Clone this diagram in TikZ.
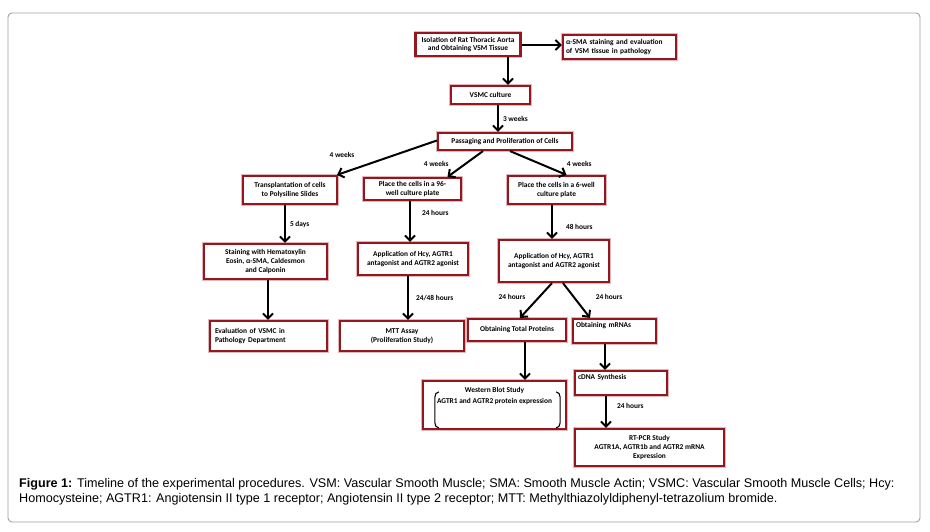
\documentclass[tikz,border=0pt]{standalone}
\usepackage{fontspec}
\setmainfont{Liberation Sans}
\newfontfamily\boxfont{Carlito}
\usepackage{xcolor}
\usetikzlibrary{arrows.meta,positioning,calc}
\definecolor{boxred}{RGB}{150,22,30}
\definecolor{framegray}{RGB}{160,160,160}

\begin{document}
\begin{tikzpicture}[
    x=1pt, y=-1pt,
    stepbox/.style={draw=boxred, line width=2.2pt, fill=white, align=center,
        preaction={draw=boxred!30, line width=3.6pt},
        font=\boxfont\bfseries\fontsize{7.4}{8.6}\selectfont, inner sep=2pt},
    arr/.style={-{Straight Barb[length=5pt,width=10pt]}, line width=2pt},
    lbl/.style={font=\boxfont\bfseries\fontsize{7.4}{8.6}\selectfont, inner sep=1pt},
    bracket/.style={line width=1.1pt}
]
    \useasboundingbox (0,0) rectangle (930,532);
    \draw[framegray, line width=0.9pt, rounded corners=4pt] (8,13) rectangle (920,522);

    % top of the chain
    \node[stepbox, minimum width=105pt, minimum height=23pt] (iso) at (468,44.5) {Isolation of Rat Thoracic Aorta\\and Obtaining VSM Tissue};
    \node[stepbox, minimum width=113pt, minimum height=24pt, align=left, text width=107pt] (sma) at (619.5,47) {α-SMA staining and evaluation\\of VSM tissue in pathology};
    \node[stepbox, minimum width=79pt, minimum height=18pt] (vsmc) at (490.5,95) {VSMC culture};
    \node[stepbox, minimum width=134pt, minimum height=17pt] (pass) at (505,141.5) {Passaging and Proliferation of Cells};

    % three branches
    \node[stepbox, minimum width=94pt, minimum height=28pt] (trans) at (290,190) {Transplantation of cells\\to Polysiline Slides};
    \node[stepbox, minimum width=97pt, minimum height=22pt] (well96) at (412.5,189) {Place the cells in a 96-\\well culture plate};
    \node[stepbox, minimum width=97pt, minimum height=28pt] (well6) at (556.5,190) {Place the cells in a 6-well\\culture plate};

    \node[stepbox, minimum width=123pt, minimum height=35pt] (stain) at (265.5,261.5) {Staining with Hematoxylin\\Eosin, α-SMA, Caldesmon\\and Calponin};
    \node[stepbox, minimum width=110pt, minimum height=32pt] (applmid) at (413,259) {Application of Hcy, AGTR1\\antagonist and AGTR2 agonist};
    \node[stepbox, minimum width=110pt, minimum height=42pt] (applright) at (554,261) {Application of Hcy, AGTR1\\antagonist and AGTR2 agonist};

    \node[stepbox, minimum width=117pt, minimum height=30pt, align=left, text width=107pt] (eval) at (268.5,336) {Evaluation of VSMC in\\Pathology Department};
    \node[stepbox, minimum width=124pt, minimum height=30pt] (mtt) at (402,336) {MTT Assay\\(Proliferation Study)};
    \node[stepbox, minimum width=98pt, minimum height=22pt] (prot) at (517,330) {Obtaining Total Proteins};
    \node[stepbox, minimum width=83pt, minimum height=24pt, align=left, text width=77pt, text depth=12pt] (mrna) at (614.5,331) {Obtaining mRNAs};

    % bottom
    \node[stepbox, minimum width=143pt, minimum height=48pt] (wb) at (494.5,405) {};
    \node[lbl, align=center, below=6pt of wb.north] (wbtext) {Western Blot Study\\[3pt]AGTR1 and AGTR2 protein expression};
    \node[stepbox, minimum width=92pt, minimum height=24pt, align=left, text width=86pt, text depth=12pt] (cdna) at (621,383) {cDNA Synthesis};
    \node[stepbox, minimum width=149pt, minimum height=37pt] (rtpcr) at (649.5,447.5) {RT-PCR Study\\AGTR1A, AGTR1b and AGTR2 mRNA\\Expression};

    % brackets in the western blot box
    \draw[bracket] ($(wb.north west)+(17,12)$) to[out=180,in=90] ($(wb.north west)+(13,17)$) -- ($(wb.north west)+(13,43)$) to[out=-90,in=180] ($(wb.north west)+(17,48)$);
    \draw[bracket] ($(wb.north east)+(-11,12)$) to[out=0,in=90] ($(wb.north east)+(-7,17)$) -- ($(wb.north east)+(-7,43)$) to[out=-90,in=0] ($(wb.north east)+(-11,48)$);

    % arrows
    \draw[arr] (iso.east |- 0,45) -- (sma.west |- 0,45);
    \draw[arr] ([xshift=40pt]iso.south) -- ([xshift=17.5pt]vsmc.north);
    \draw[arr] ([xshift=7.5pt]vsmc.south) -- ([xshift=-7pt]pass.north) node[lbl, midway, right=3pt] {3 weeks};
    \draw[arr] ([yshift=1pt]pass.west) -- ([xshift=47pt]trans.north) node[lbl, pos=0.95, above=14pt] {4 weeks};
    \draw[arr] ([xshift=-22pt]pass.south) -- ([xshift=35pt]well96.north) node[lbl, pos=0.8, above left=3pt and 4pt] {4 weeks};
    \draw[arr] ([xshift=5pt]pass.south) -- ([xshift=10pt]well6.north) node[lbl, pos=0.9, above right=4pt and 4pt] {4 weeks};

    \draw[arr] ([xshift=-5pt]trans.south) -- ([xshift=19.5pt]stain.north) node[lbl, midway, right=3pt] {5 days};
    \draw[arr] ([xshift=-2.5pt]well96.south) -- ([xshift=-3pt]applmid.north) node[lbl, pos=0.3, right=10pt] {24 hours};
    \draw[arr] ([xshift=-4.5pt]well6.south) -- ([xshift=-2pt]applright.north) node[lbl, pos=0.65, right=12pt] {48 hours};

    \draw[arr] ([xshift=2.5pt]stain.south) -- ([xshift=-0.5pt]eval.north);
    \draw[arr] ([xshift=-5pt]applmid.south) -- ([xshift=6pt]mtt.north) node[lbl, midway, right=6pt] {24/48 hours};
    \draw[arr] ([xshift=-2pt]applright.south) -- ([xshift=3pt]prot.north) node[lbl, pos=0.4, left=12pt] {24 hours};
    \draw[arr] ([xshift=9pt]applright.south) -- ([xshift=-24.5pt]mrna.north) node[lbl, pos=0.4, right=20pt] {24 hours};

    \draw[arr] ([xshift=8pt]prot.south) -- ([xshift=30.5pt]wb.north);
    \draw[arr] ([xshift=-9.5pt]mrna.south) -- ([xshift=-16pt]cdna.north);
    \draw[arr] ([xshift=-15pt]cdna.south) -- ([xshift=-43.5pt]rtpcr.north) node[lbl, pos=0.3, right=9pt] {24 hours};

    % caption
    \node[anchor=north west, align=left, inner sep=0pt, font=\fontsize{12.6}{15}\selectfont] (caption) at (19,478) {\textbf{Figure 1:} Timeline of the experimental procedures. VSM: Vascular Smooth Muscle; SMA: Smooth Muscle Actin; VSMC: Vascular Smooth Muscle Cells; Hcy:\\Homocysteine; AGTR1: Angiotensin II type 1 receptor; Angiotensin II type 2 receptor; MTT: Methylthiazolyldiphenyl-tetrazolium bromide.};
\end{tikzpicture}
\end{document}
